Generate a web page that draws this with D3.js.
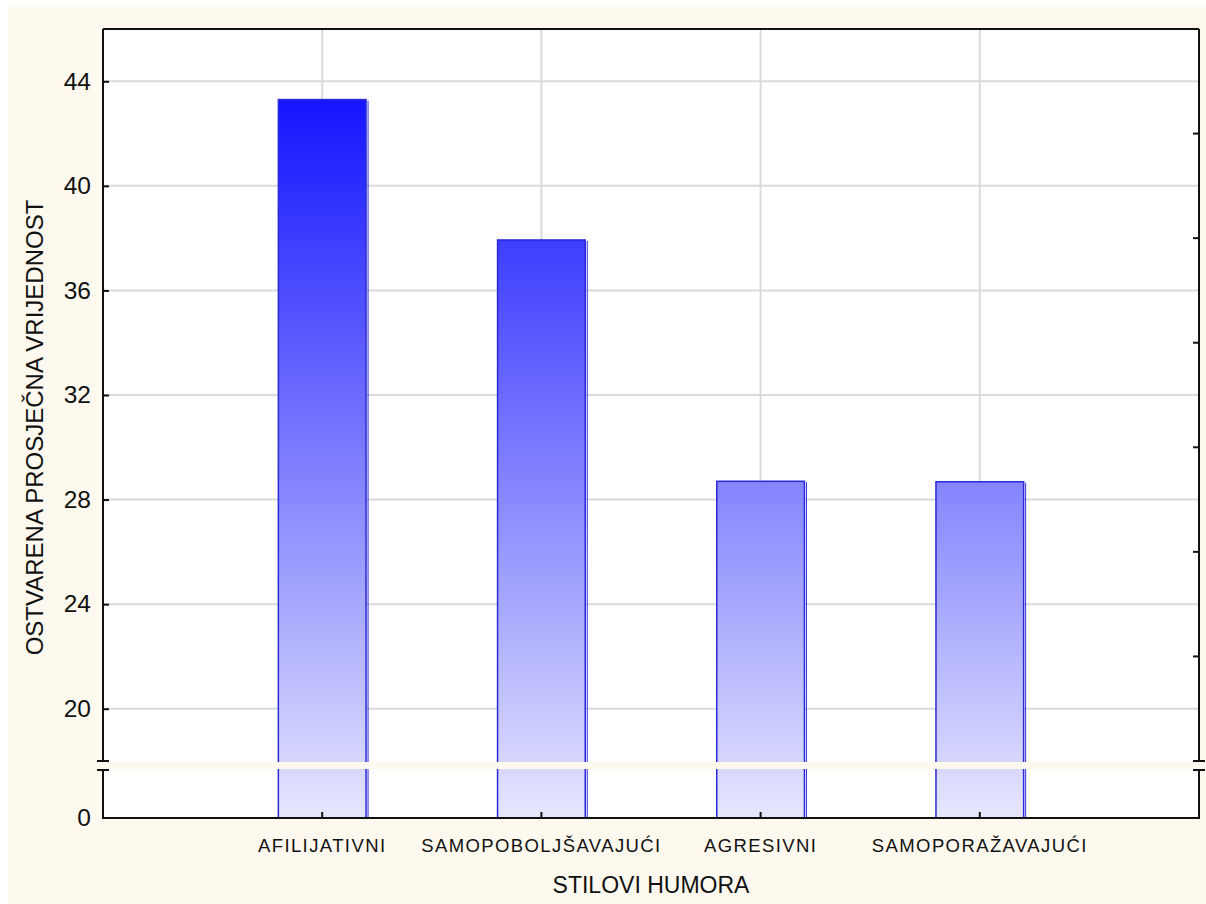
<!DOCTYPE html>
<html>
<head>
<meta charset="utf-8">
<script src="https://cdnjs.cloudflare.com/ajax/libs/d3/7.8.5/d3.min.js"></script>
<style>
  body { margin: 0; background: #ffffff; }
  text { font-family: "Liberation Sans", Arial, sans-serif; fill: #111; }
</style>
</head>
<body>
<svg id="chart" width="1206" height="904"></svg>
<script>
// humor styles, mean score
const categories = ["AFILIJATIVNI", "SAMOPOBOLJŠAVAJUĆI", "AGRESIVNI", "SAMOPORAŽAVAJUĆI"];
const values = [43.3, 37.93, 28.7, 28.68];
const majorTicks = [20, 24, 28, 32, 36, 40, 44];
const minorTicks = [22, 26, 30, 34, 38, 42];
const lowTicks = [0];

const margin = {top: 29, right: 7, bottom: 86, left: 103};
const W = 1206, H = 904;
const plotW = W - margin.left - margin.right;   // 1096
const bottomY = 818;
const breakTop = 761, breakBot = 770;

const svg = d3.select("#chart");

// cream background
svg.append("rect")
  .attr("x", 8).attr("y", 7)
  .attr("width", W - 8).attr("height", H - 7)
  .attr("fill", "#fdf9ee");

// scales: upper part above the break, lower part below it
const yUp = d3.scaleLinear().domain([18, 46]).range([breakTop, margin.top]);
const yLow = d3.scaleLinear().domain([0, 1.83]).range([bottomY, breakBot]);
const x = d3.scaleLinear().domain([0, 5]).range([margin.left, margin.left + plotW]);

// plot area
svg.append("rect")
  .attr("x", margin.left).attr("y", margin.top)
  .attr("width", plotW).attr("height", bottomY - margin.top)
  .attr("fill", "#ffffff");

// gridlines
svg.append("g").selectAll("line.h")
  .data(majorTicks).join("line")
  .attr("x1", margin.left).attr("x2", margin.left + plotW)
  .attr("y1", d => yUp(d)).attr("y2", d => yUp(d))
  .attr("stroke", "#dadada").attr("stroke-width", 2);

svg.append("g").selectAll("line.v")
  .data(categories).join("line")
  .attr("x1", (d, i) => x(i + 1)).attr("x2", (d, i) => x(i + 1))
  .attr("y1", margin.top).attr("y2", bottomY)
  .attr("stroke", "#dadada").attr("stroke-width", 2);

// gradient shared by all bars (by height)
const defs = svg.append("defs");
const grad = defs.append("linearGradient")
  .attr("id", "barGrad")
  .attr("gradientUnits", "userSpaceOnUse")
  .attr("x1", 0).attr("x2", 0)
  .attr("y1", yUp(d3.max(values))).attr("y2", bottomY);
grad.append("stop").attr("offset", "0%").attr("stop-color", "#1414ff");
grad.append("stop").attr("offset", "100%").attr("stop-color", "#e6e6fd");

const barW = 0.4 * (plotW / 5);

const bars = svg.append("g");
bars.selectAll("rect")
  .data(values).join("rect")
  .attr("x", (d, i) => x(i + 1) - barW / 2)
  .attr("y", d => yUp(d))
  .attr("width", barW)
  .attr("height", d => bottomY - yUp(d))
  .attr("fill", "url(#barGrad)")
  .attr("stroke", "#2a2ad8")
  .attr("stroke-width", 1.5);

// thin shadow line on the right side of each bar
bars.selectAll("line")
  .data(values).join("line")
  .attr("x1", (d, i) => x(i + 1) + barW / 2 + 2)
  .attr("x2", (d, i) => x(i + 1) + barW / 2 + 2)
  .attr("y1", d => yUp(d) + 1).attr("y2", bottomY)
  .attr("stroke", "#3030e0").attr("stroke-width", 1);

// break band
svg.append("rect")
  .attr("x", margin.left - 1).attr("y", breakTop + 1)
  .attr("width", plotW + 2).attr("height", breakBot - breakTop - 2)
  .attr("fill", "#fdf9ee");

// frame
const frame = svg.append("g").attr("stroke", "#111").attr("stroke-width", 2).attr("fill", "none");
const L = margin.left, R = margin.left + plotW;
frame.append("line").attr("x1", L).attr("x2", R).attr("y1", margin.top).attr("y2", margin.top);
frame.append("line").attr("x1", L - 1).attr("x2", R + 1).attr("y1", bottomY).attr("y2", bottomY);
[L, R].forEach(xx => {
  frame.append("line").attr("x1", xx).attr("x2", xx).attr("y1", margin.top).attr("y2", breakTop);
  frame.append("line").attr("x1", xx).attr("x2", xx).attr("y1", breakBot).attr("y2", bottomY);
  frame.append("line").attr("x1", xx - 6).attr("x2", xx + 6).attr("y1", breakTop).attr("y2", breakTop);
  frame.append("line").attr("x1", xx - 6).attr("x2", xx + 6).attr("y1", breakBot).attr("y2", breakBot);
});

const tickFont = 24.5;

// left axis ticks (inward) and labels
const leftAxis = d3.axisLeft(yUp).tickValues(majorTicks).tickSize(-6).tickPadding(12);
svg.append("g").attr("transform", `translate(${L},0)`).call(leftAxis)
  .call(g => g.select(".domain").remove())
  .call(g => g.selectAll("line").attr("stroke", "#111").attr("stroke-width", 2))
  .call(g => g.selectAll("text").attr("font-size", tickFont).attr("font-family", "Liberation Sans, Arial, sans-serif").attr("fill", "#111"));

const lowAxis = d3.axisLeft(yLow).tickValues(lowTicks).tickFormat(d3.format("d")).tickSize(0).tickPadding(12);
svg.append("g").attr("transform", `translate(${L},0)`).call(lowAxis)
  .call(g => g.select(".domain").remove())
  .call(g => g.selectAll("text").attr("font-size", tickFont).attr("font-family", "Liberation Sans, Arial, sans-serif").attr("fill", "#111"));

// right axis minor ticks (inward)
svg.append("g").selectAll("line")
  .data(minorTicks).join("line")
  .attr("x1", R - 6).attr("x2", R)
  .attr("y1", d => yUp(d)).attr("y2", d => yUp(d))
  .attr("stroke", "#111").attr("stroke-width", 2);

// x ticks (inward) and category labels
svg.append("g").selectAll("line")
  .data(categories).join("line")
  .attr("x1", (d, i) => x(i + 1)).attr("x2", (d, i) => x(i + 1))
  .attr("y1", bottomY - 6).attr("y2", bottomY)
  .attr("stroke", "#111").attr("stroke-width", 2);

svg.append("g").selectAll("text")
  .data(categories).join("text")
  .attr("x", (d, i) => x(i + 1))
  .attr("y", 852)
  .attr("text-anchor", "middle")
  .attr("font-size", 18.5)
  .attr("letter-spacing", 1.4)
  .text(d => d);

// axis titles
svg.append("text")
  .attr("x", (L + R) / 2).attr("y", 893)
  .attr("text-anchor", "middle")
  .attr("font-size", 23)
  .text("STILOVI HUMORA");

svg.append("text")
  .attr("transform", `translate(43,${(margin.top + bottomY) / 2 + 4}) rotate(-90)`)
  .attr("text-anchor", "middle")
  .attr("font-size", 24)
  .text("OSTVARENA PROSJEČNA VRIJEDNOST");
</script>
</body>
</html>
